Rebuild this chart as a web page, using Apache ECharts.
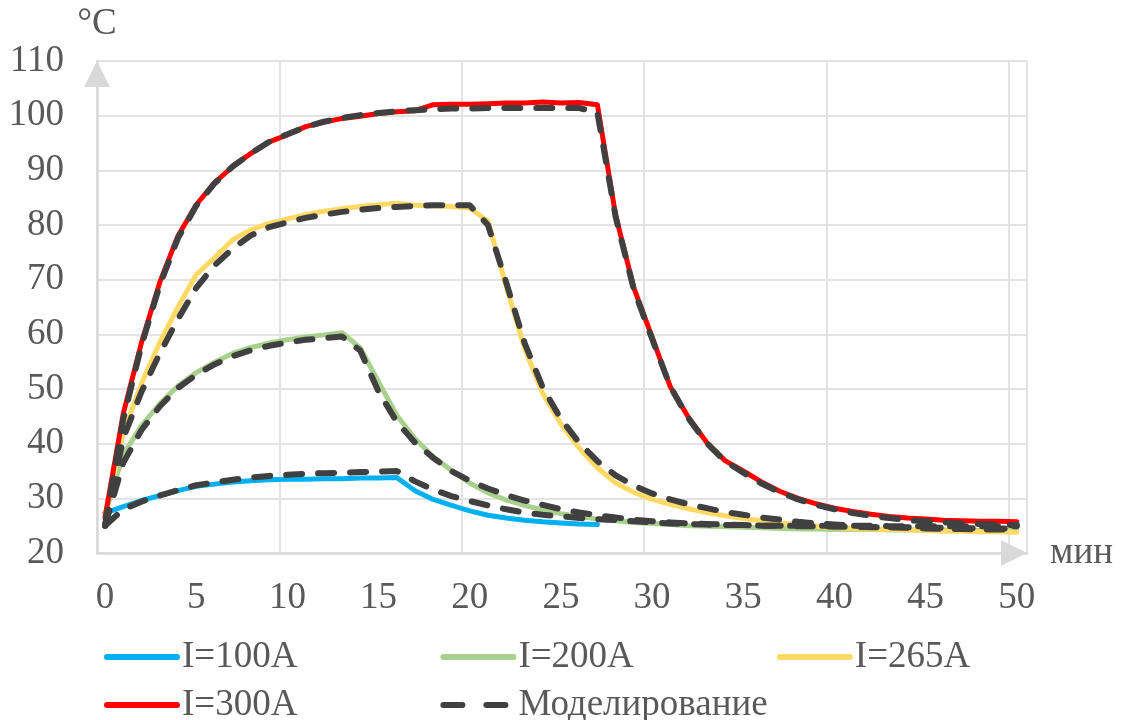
<!DOCTYPE html>
<html>
<head>
<meta charset="utf-8">
<title>Нагрев провода</title>
<script src="https://cdn.jsdelivr.net/npm/echarts@6/dist/echarts.min.js"></script>
<style>
  html, body { margin: 0; padding: 0; background: #fff; }
  #chart { width: 1123px; height: 720px; }
</style>
</head>
<body>
<div id="chart"></div>
<script>
// время, мин
const minutes = [
  0, 1, 2, 3, 4, 5, 6, 7, 8, 9,
  10, 11, 12, 13, 14, 15, 16, 17, 18, 19,
  20, 21, 22, 23, 24, 25, 26, 27, 28, 29,
  30, 31, 32, 33, 34, 35, 36, 37, 38, 39,
  40, 41, 42, 43, 44, 45, 46, 47, 48, 49,
  50
];
const xTicks = [0, 5, 10, 15, 20, 25, 30, 35, 40, 45, 50];

// эксперимент, °C
const i100 = [
  27.3, 28.5, 29.6, 30.5, 31.4, 32.2, 32.6, 33.0, 33.2, 33.4,
  33.5, 33.5, 33.6, 33.6, 33.7, 33.7, 33.8, 31.4, 29.8, 28.7,
  27.7, 26.9, 26.4, 26.0, 25.7, 25.5, 25.3, 25.2
];
const i200 = [
  27.0, 38.0, 43.3, 47.3, 50.6, 53.0, 54.9, 56.5, 57.6, 58.4,
  59.0, 59.5, 59.9, 60.3, 57.5, 51.3, 45.2, 40.9, 37.6, 35.1,
  32.8, 31.0, 29.7, 28.7, 27.9, 27.2, 26.7, 26.2, 25.9, 25.6,
  25.4, 25.2, 25.0, 24.9, 24.8, 24.7, 24.6, 24.5, 24.4, 24.4,
  24.3, 24.3, 24.3, 24.2, 24.2, 24.2, 24.2, 24.1, 24.1, 24.1,
  24.1
];
const i265 = [
  27.0, 42.0, 51.0, 58.5, 65.0, 70.9, 74.0, 77.3, 79.1, 80.3,
  81.1, 81.9, 82.5, 83.0, 83.4, 83.7, 84.0, 83.6, 83.5, 83.4,
  83.1, 80.7, 68.8, 57.5, 49.2, 43.6, 39.2, 35.6, 32.8, 31.1,
  29.8, 28.9, 28.1, 27.4, 26.8, 26.3, 25.9, 25.5, 25.2, 24.9,
  24.6, 24.5, 24.4, 24.3, 24.2, 24.1, 24.0, 24.0, 23.9, 23.9,
  23.8
];
const i300 = [
  26.5, 45.5, 58.5, 69.5, 78.0, 83.7, 87.7, 90.7, 93.1, 95.2,
  96.5, 98.0, 98.8, 99.5, 99.9, 100.4, 100.7, 100.9, 102.0, 102.1,
  102.1, 102.2, 102.3, 102.3, 102.5, 102.3, 102.4, 102.0, 81.8, 68.5,
  59.5, 50.4, 44.8, 40.2, 36.9, 35.0, 33.0, 31.3, 30.0, 29.0,
  28.2, 27.6, 27.1, 26.7, 26.4, 26.2, 26.0, 25.9, 25.8, 25.8,
  25.7
];

// моделирование, °C
const m100 = [
  25.0, 28.0, 29.4, 30.5, 31.5, 32.4, 32.9, 33.4, 33.8, 34.1,
  34.3, 34.5, 34.6, 34.7, 34.8, 34.9, 35.0, 33.1, 31.6, 30.4,
  29.5, 28.7, 28.0, 27.4, 27.0, 26.7, 26.4, 26.2, 26.0, 25.8,
  25.6, 25.4, 25.3, 25.2, 25.1, 25.1, 25.0, 25.0, 25.0, 25.0,
  25.0, 25.0, 25.0, 24.9, 24.9, 24.9, 24.9, 24.9, 24.9, 24.9,
  24.9
];
const m200 = [
  25.0, 36.5, 42.5, 46.8, 50.2, 52.6, 54.5, 56.0, 57.1, 57.9,
  58.5, 59.0, 59.3, 59.6, 57.0, 49.5, 44.0, 40.2, 37.4, 35.0,
  33.2, 31.8, 30.6, 29.6, 28.8, 28.0, 27.4, 26.9, 26.5, 26.1,
  25.8, 25.6, 25.4, 25.3, 25.2, 25.1, 25.0, 25.0, 24.9, 24.9,
  24.8, 24.8, 24.7, 24.7, 24.7, 24.6, 24.6, 24.6, 24.5, 24.5,
  24.5
];
const m265 = [
  25.0, 41.0, 49.5, 56.5, 62.8, 68.5, 72.6, 75.7, 78.1, 79.6,
  80.5, 81.3, 81.9, 82.4, 82.8, 83.1, 83.3, 83.5, 83.6, 83.6,
  83.6, 80.0, 69.5, 58.5, 50.3, 44.5, 40.2, 36.8, 34.2, 32.3,
  30.9, 29.8, 28.9, 28.2, 27.5, 27.0, 26.5, 26.1, 25.7, 25.4,
  25.2, 25.0, 24.8, 24.7, 24.6, 24.5, 24.4, 24.4, 24.3, 24.3,
  24.2
];
const m300 = [
  25.0, 44.5, 58.0, 69.0, 77.6, 83.5, 87.6, 90.7, 93.1, 95.2,
  96.6, 97.9, 98.9, 99.6, 100.1, 100.5, 100.8, 101.0, 101.2, 101.3,
  101.3, 101.4, 101.4, 101.4, 101.4, 101.4, 101.4, 100.6, 81.5, 68.2,
  59.2, 50.4, 44.6, 40.1, 36.8, 34.7, 32.7, 31.1, 29.8, 28.8,
  28.0, 27.3, 26.8, 26.4, 26.0, 25.8, 25.6, 25.4, 25.3, 25.2,
  25.1
];

const MODEL = 'Моделирование';
const textColor = '#595959';
const font = 'Liberation Serif';

// пары [мин, °C]
function toPoints (values) {
  return values.map((v, i) => [minutes[i], v]);
}

function solidSeries (name, color, values) {
  return {
    name: name,
    type: 'line',
    xAxisIndex: 0,
    data: toPoints(values),
    symbol: 'none',
    showSymbol: false,
    z: 2,
    emphasis: { disabled: true },
    lineStyle: { color: color, width: 5, cap: 'round', join: 'round' },
    itemStyle: { color: color }
  };
}

function modelSeries (values) {
  return {
    name: MODEL,
    type: 'line',
    xAxisIndex: 0,
    data: toPoints(values),
    symbol: 'none',
    showSymbol: false,
    z: 3,
    emphasis: { disabled: true },
    lineStyle: { color: '#404040', width: 6, type: [16, 16], cap: 'round', join: 'round' },
    itemStyle: { color: '#404040' }
  };
}

// в легенде только линия, без кружка
const legendBase = {
  left: 104,
  padding: 0,
  itemWidth: 70,
  itemHeight: 14,
  itemGap: 143,
  itemStyle: { opacity: 0 },
  lineStyle: { width: 6, cap: 'round' },
  textStyle: { fontFamily: font, fontSize: 37, color: textColor, lineHeight: 40 }
};

const chart = echarts.init(document.getElementById('chart'));
chart.setOption({
  animation: false,
  backgroundColor: '#fff',
  grid: { left: 97, right: 96, top: 61, bottom: 167, containLabel: false, outerBoundsMode: 'none' },
  legend: [
    Object.assign({}, legendBase, { top: 637, data: ['I=100A', 'I=200A', 'I=265A'] }),
    Object.assign({}, legendBase, {
      top: 685,
      data: ['I=300A', { name: MODEL, lineStyle: { type: [19, 24] } }]
    })
  ],
  xAxis: [
    {
      // ось данных и подписи
      type: 'value',
      position: 'bottom',
      min: -0.44,
      max: 50.56,
      name: 'мин',
      nameLocation: 'end',
      nameGap: 23,
      nameTextStyle: { fontFamily: font, fontSize: 37, color: textColor, padding: [14, 0, 0, 0] },
      axisLine: {
        onZero: false,
        symbol: ['none', 'triangle'],
        symbolSize: [26, 26],
        symbolOffset: [0, -13],
        lineStyle: { color: '#D9D9D9', width: 2.5 }
      },
      axisTick: { show: false },
      splitLine: { show: false },
      axisLabel: {
        customValues: xTicks,
        margin: 27,
        fontFamily: font,
        fontSize: 37,
        color: textColor
      }
    },
    {
      // сетка через 10 мин
      type: 'value',
      position: 'top',
      min: 0,
      max: 51,
      interval: 10,
      axisLine: { show: false },
      axisTick: { show: false },
      axisLabel: { show: false },
      splitLine: { show: true, lineStyle: { color: '#E3E3E3', width: 2 } }
    }
  ],
  yAxis: {
    type: 'value',
    min: 20,
    max: 110,
    interval: 10,
    name: '°C',
    nameLocation: 'end',
    nameGap: 18,
    nameTextStyle: { fontFamily: font, fontSize: 37, color: textColor, align: 'center' },
    axisLine: {
      show: true,
      onZero: false,
      symbol: ['none', 'triangle'],
      symbolSize: [26, 26],
      symbolOffset: [0, -13],
      lineStyle: { color: '#D9D9D9', width: 2.5 }
    },
    axisTick: { show: false },
    splitLine: { show: true, lineStyle: { color: '#E3E3E3', width: 2 } },
    axisLabel: { margin: 33, fontFamily: font, fontSize: 37, color: textColor }
  },
  series: [
    solidSeries('I=100A', '#00B0F0', i100),
    solidSeries('I=200A', '#A9D18E', i200),
    solidSeries('I=265A', '#FFD966', i265),
    solidSeries('I=300A', '#FF0000', i300),
    modelSeries(m100),
    modelSeries(m200),
    modelSeries(m265),
    modelSeries(m300)
  ]
});
</script>
</body>
</html>
